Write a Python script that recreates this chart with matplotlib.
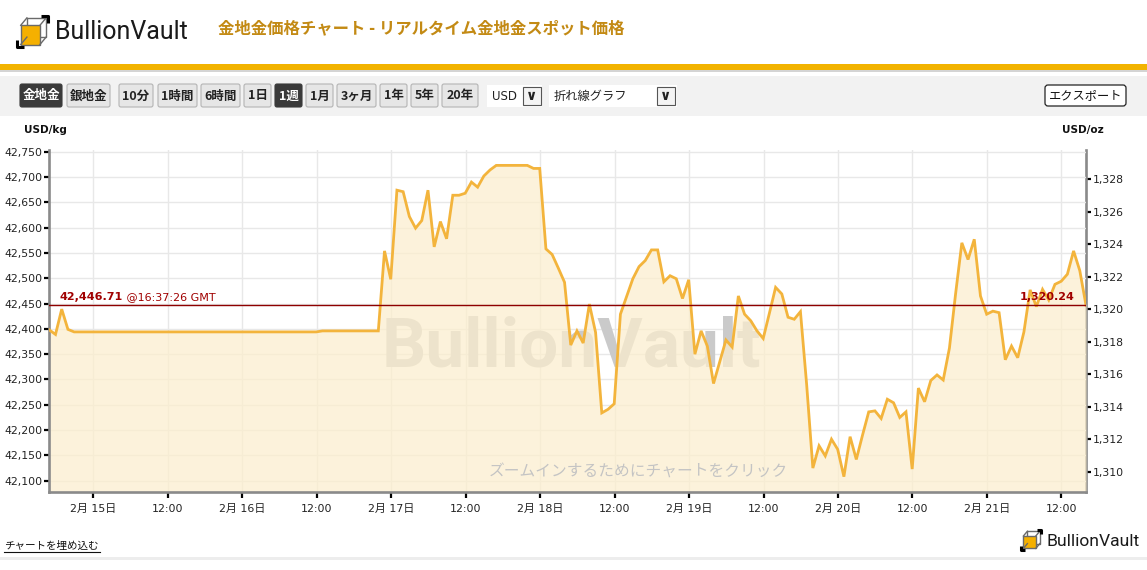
import matplotlib
matplotlib.use("Agg")
import matplotlib.pyplot as plt
from matplotlib.patches import Rectangle, FancyBboxPatch, Polygon
from matplotlib.lines import Line2D
from matplotlib.ticker import FixedLocator, FuncFormatter
from matplotlib import font_manager
import pandas as pd

# ---------------- data ----------------
START = pd.Timestamp("2014-02-14 16:57")
hours = [0, 1, 2, 3, 4, 43, 44, 53,
         54, 55, 56, 57, 58, 59, 60, 61, 62, 63, 64, 65, 66, 67, 68, 69, 70, 71, 72, 77,
         78, 79, 80, 81, 82, 83, 84, 85, 86, 87, 88, 89, 90, 91, 92, 93, 94, 95, 96, 97, 98,
         99, 100, 101, 102, 103, 104, 105, 106, 107, 108, 109, 110, 111, 112, 113, 114, 115,
         116, 117, 118, 119, 120, 121, 122, 123, 124, 125, 126, 127, 128, 129, 130, 131, 132,
         133, 134, 135, 136, 137, 138, 139, 140, 141, 142, 143, 144, 145, 146, 147, 148, 149,
         150, 151, 152, 153, 154, 155, 156, 157, 158, 159, 160, 161, 162, 163, 164, 165, 166, 167]
prices_usd_kg = [42398, 42389, 42439, 42399, 42394, 42394, 42396, 42396,
                 42554, 42498, 42674, 42671, 42622, 42599, 42614, 42674, 42562, 42612, 42578, 42664,
                 42664, 42668, 42690, 42680, 42702, 42714, 42723, 42723,
                 42717, 42717, 42558, 42547, 42520, 42492, 42368, 42396, 42372, 42449, 42393, 42234,
                 42241, 42252, 42429, 42464, 42499, 42523, 42535, 42556, 42556,
                 42493, 42505, 42499, 42460, 42497, 42350, 42396, 42366, 42292, 42335, 42378, 42364,
                 42465, 42429, 42416, 42396, 42381,
                 42431, 42482, 42469, 42423, 42419, 42434, 42290, 42125, 42169, 42149, 42182, 42162,
                 42108, 42187, 42142, 42190, 42236,
                 42238, 42223, 42261, 42254, 42225, 42236, 42123, 42283, 42256, 42298, 42309, 42299,
                 42362, 42470, 42570, 42537, 42577,
                 42465, 42429, 42435, 42432, 42339, 42366, 42343, 42394, 42477, 42444, 42478, 42457,
                 42488, 42494, 42508, 42554, 42515, 42446.71]
assert len(hours) == len(prices_usd_kg)

current_price = 42446.71
current_time = "@16:37:26 GMT"
KG_PER_OZ = 32.1507466

left_ticks = [42100, 42150, 42200, 42250, 42300, 42350, 42400, 42450, 42500,
              42550, 42600, 42650, 42700, 42750]
right_ticks = [1310, 1312, 1314, 1316, 1318, 1320, 1322, 1324, 1326, 1328]
x_tick_times = pd.date_range("2014-02-15 00:00", "2014-02-21 12:00", freq="12h")
x_tick_labels = ["2月 15日", "12:00", "2月 16日", "12:00", "2月 17日", "12:00",
                 "2月 18日", "12:00", "2月 19日", "12:00", "2月 20日", "12:00",
                 "2月 21日", "12:00"]

times = START + pd.to_timedelta(hours, unit="h")

# ---------------- fonts ----------------
installed = {f.name for f in font_manager.fontManager.ttflist}
NARROW = "Liberation Sans Narrow" in installed
LOGO_FAM = "Liberation Sans Narrow" if NARROW else "Roboto"
CJK = "Noto Sans CJK JP"
MIX = ["DejaVu Sans", CJK]

W, H = 1147, 570
fig = plt.figure(figsize=(W / 100, H / 100), dpi=100)
fig.patch.set_facecolor("white")

bg = fig.add_axes([0, 0, 1, 1])
bg.set_xlim(0, W)
bg.set_ylim(H, 0)
bg.axis("off")


def draw_cube(x0, y0, s):
    def P(u, v):
        return (x0 + u * s, y0 + v * s)
    gray = "#6a6a6a"
    bg.add_patch(Polygon([P(0.32, 0.06), P(0.94, 0.06), P(0.94, 0.68), P(0.32, 0.68)],
                         closed=True, fill=False, ec=gray, lw=1.0))
    bg.add_patch(Polygon([P(0.12, 0.30), P(0.74, 0.30), P(0.74, 0.92), P(0.12, 0.92)],
                         closed=True, fc="#f5b000", ec=gray, lw=1.0))
    for a, b in [((0.12, 0.30), (0.32, 0.06)), ((0.74, 0.30), (0.94, 0.06)),
                 ((0.74, 0.92), (0.94, 0.68)), ((0.12, 0.92), (0.32, 0.68))]:
        pa, pb = P(*a), P(*b)
        bg.add_line(Line2D([pa[0], pb[0]], [pa[1], pb[1]], color=gray, lw=1.0))
    for pts in [[(0.78, 0.0), (1.0, 0.0), (1.0, 0.22)], [(0.0, 0.78), (0.0, 1.0), (0.22, 1.0)]]:
        xs = [P(*p)[0] for p in pts]
        ys = [P(*p)[1] for p in pts]
        bg.add_line(Line2D(xs, ys, color="black", lw=2.2, solid_capstyle="butt"))


# ---------------- header ----------------
draw_cube(17, 16, 31)
bg.text(55, 32, "BullionVault", fontsize=(22 if NARROW else 18), family=LOGO_FAM,
        color="#1a1a1a", va="center", ha="left")
bg.text(218, 28, "金地金価格チャート - リアルタイム金地金スポット価格", fontsize=11.8,
        family=[CJK], fontweight="bold", color="#c38a14", va="center", ha="left")
bg.add_patch(Rectangle((0, 64), W, 6, fc="#f2b300", ec="none"))
bg.add_patch(Rectangle((0, 70), W, 2, fc="#d4d4d4", ec="none"))
bg.add_patch(Rectangle((0, 76), W, 40, fc="#f2f2f2", ec="none"))

buttons = [("金地金", 20, 62, True), ("銀地金", 67, 110, False), ("10分", 119, 153, False),
           ("1時間", 158, 197, False), ("6時間", 201, 240, False), ("1日", 244, 271, False),
           ("1週", 275, 302, True), ("1月", 306, 333, False), ("3ヶ月", 337, 376, False),
           ("1年", 380, 407, False), ("5年", 411, 438, False), ("20年", 442, 478, False)]
for label, x0, x1, active in buttons:
    fc = "#3a3a3a" if active else "#e6e6e6"
    ec = "#3a3a3a" if active else "#b4b4b4"
    bg.add_patch(FancyBboxPatch((x0, 84), x1 - x0, 23, boxstyle="round,pad=0,rounding_size=2",
                                fc=fc, ec=ec, lw=0.8))
    bg.text((x0 + x1) / 2, 96, label, fontsize=9, family=[CJK], fontweight="bold",
            color="white" if active else "#222222", ha="center", va="center")

# selects
bg.add_patch(Rectangle((487, 85), 55, 22, fc="white", ec="none"))
bg.text(492, 96.5, "USD", fontsize=8.5, family=["DejaVu Sans"], color="#222", va="center")
bg.add_patch(Rectangle((523, 87), 18, 18, fc="#f4f4f4", ec="#555", lw=0.8))
bg.text(532, 96, "∨", fontsize=10, family=["DejaVu Sans"], fontweight="bold", color="#222",
        ha="center", va="center")
bg.add_patch(Rectangle((549, 85), 128, 22, fc="white", ec="none"))
bg.text(554, 96.5, "折れ線グラフ", fontsize=8.8, family=[CJK], color="#222", va="center")
bg.add_patch(Rectangle((657, 87), 18, 18, fc="#f4f4f4", ec="#555", lw=0.8))
bg.text(666, 96, "∨", fontsize=10, family=["DejaVu Sans"], fontweight="bold", color="#222",
        ha="center", va="center")
bg.add_patch(FancyBboxPatch((1045, 85), 81, 21, boxstyle="round,pad=0,rounding_size=3",
                            fc="white", ec="#222", lw=0.9))
bg.text(1085.5, 95.5, "エクスポート", fontsize=8.8, family=[CJK], color="#111",
        ha="center", va="center")

bg.text(24, 130, "USD/kg", fontsize=7.5, family=["DejaVu Sans"], fontweight="bold",
        color="#111", va="center", ha="left")
bg.text(1062, 130, "USD/oz", fontsize=7.5, family=["DejaVu Sans"], fontweight="bold",
        color="#111", va="center", ha="left")

# ---------------- footer ----------------
bg.text(4, 546, "チャートを埋め込む", fontsize=7.6, family=[CJK], color="#111",
        va="center", ha="left")
bg.add_line(Line2D([4, 100], [552, 552], color="#111", lw=0.8))
bg.add_patch(Rectangle((0, 557), W, 3, fc="#ededed", ec="none"))
draw_cube(1021, 530, 20)
bg.text(1046, 541, "BullionVault", fontsize=(15.5 if NARROW else 12.6), family=LOGO_FAM,
        color="#1a1a1a", va="center", ha="left")

# ---------------- chart ----------------
L, R, T, B = 49.3, 1086, 150, 491.7
ax = fig.add_axes([L / W, 1 - B / H, (R - L) / W, (B - T) / H])
ax.set_facecolor("white")
ymin, ymax = 42078.3, 42753.4
ax.set_ylim(ymin, ymax)
ax.set_xlim(times[0], times[-1])

ax.set_axisbelow(True)
ax.grid(True, color="#e8e8e8", lw=1.0)

ax.text(0.504, 0.42, "BullionVault", transform=ax.transAxes, ha="center", va="center",
        fontsize=(58 if NARROW else 50), family=LOGO_FAM, fontweight="bold",
        color="#cacaca", zorder=1.5)
ax.fill_between(times, prices_usd_kg, ymin, color=(252 / 255, 238 / 255, 205 / 255),
                alpha=0.72, lw=0, zorder=2)
ax.text(0.568, 0.06, "ズームインするためにチャートをクリック", transform=ax.transAxes,
        ha="center", va="center", fontsize=11.3, family=[CJK], color="#c4c4c4", zorder=2.5)
ax.plot(times, prices_usd_kg, color="#f3b43c", lw=2.0, zorder=3, solid_joinstyle="miter")

ax.axhline(current_price, color="#8e0000", lw=1.0, zorder=4)
t1 = ax.annotate(f"{current_price:,.2f}", xy=(0.0103, current_price),
                 xycoords=("axes fraction", "data"), xytext=(0, 2.5), textcoords="offset points",
                 fontsize=8, fontweight="bold", color="#a00000", family=["DejaVu Sans"],
                 ha="left", va="bottom", zorder=5)
ax.annotate(" " + current_time, xy=(1, 0), xycoords=t1, fontsize=8, color="#a00000",
            family=["DejaVu Sans"], ha="left", va="bottom", zorder=5)
ax.annotate(f"{current_price / KG_PER_OZ:,.2f}", xy=(0.989, current_price),
            xycoords=("axes fraction", "data"), xytext=(0, 2.5), textcoords="offset points",
            fontsize=8, fontweight="bold", color="#a00000", family=["DejaVu Sans"],
            ha="right", va="bottom", zorder=5)

ax.yaxis.set_major_locator(FixedLocator(left_ticks))
ax.yaxis.set_major_formatter(FuncFormatter(lambda v, p: f"{v:,.0f}"))
ax.xaxis.set_major_locator(FixedLocator([matplotlib.dates.date2num(t) for t in x_tick_times]))
ax.set_xticklabels(x_tick_labels)
for lab in ax.get_xticklabels():
    lab.set_family(MIX)
for lab in ax.get_yticklabels():
    lab.set_family(["DejaVu Sans"])

ax.tick_params(axis="y", length=3.5, width=1.6, color="black", labelcolor="#222",
               labelsize=7.8, pad=1.5)
ax.tick_params(axis="x", length=4, width=1.6, color="black", labelcolor="#222",
               labelsize=7.9, pad=5)

for s in ["top", "right"]:
    ax.spines[s].set_visible(False)
for s in ["left", "bottom"]:
    ax.spines[s].set_color("#8a8a8a")
    ax.spines[s].set_linewidth(1.9)

sec = ax.secondary_yaxis("right", functions=(lambda v: v / KG_PER_OZ, lambda v: v * KG_PER_OZ))
sec.set_yticks(right_ticks)
sec.yaxis.set_major_formatter(FuncFormatter(lambda v, p: f"{v:,.0f}"))
sec.tick_params(axis="y", length=3.5, width=1.6, color="black", labelcolor="#222",
                labelsize=7.8, pad=1.5)
for lab in sec.get_yticklabels():
    lab.set_family(["DejaVu Sans"])
sec.spines["right"].set_color("#8a8a8a")
sec.spines["right"].set_linewidth(1.9)

fig.savefig("out.png", dpi=100, facecolor="white")
